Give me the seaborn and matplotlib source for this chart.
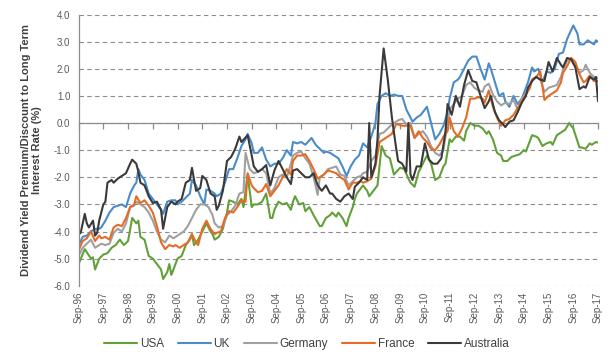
import matplotlib

matplotlib.use("Agg")

import matplotlib.pyplot as plt
import pandas as pd
import seaborn as sns

# months after Sep-96, value (%)
COUNTRIES = ["USA", "UK", "Germany", "France", "Australia"]
COLORS = ["#62a03a", "#4a8bc9", "#a0a0a0", "#e46c26", "#3a3a3a"]

TICK_MONTHS = list(range(0, 253, 12))
TICK_LABELS = ["Sep-96", "Sep-97", "Sep-98", "Sep-99", "Sep-00", "Sep-01", "Sep-02",
               "Sep-03", "Sep-04", "Sep-05", "Sep-06", "Sep-07", "Sep-08", "Sep-09",
               "Sep-10", "Sep-11", "Sep-12", "Sep-13", "Sep-14", "Sep-15", "Sep-16",
               "Sep-17"]
Y_TICKS = [-6, -5, -4, -3, -2, -1, 0, 1, 2, 3, 4]

usa_months = [0, 3, 6, 7, 8, 10, 12, 14, 16, 18, 20, 22, 24, 26, 28, 29, 30, 32, 34, 36,
              38, 40, 41, 43, 44, 45, 47, 48, 50, 52, 54, 55, 56, 58, 60, 62, 64, 65, 66,
              68, 70, 72, 73, 75, 77, 79, 80, 82, 84, 85, 87, 89, 91, 93, 94, 95, 97, 99,
              101, 103, 104, 105, 107, 109, 110, 112, 114, 117, 118, 120, 122, 123, 125,
              126, 128, 130, 131, 133, 134, 135, 138, 140, 141, 143, 145, 147, 149, 151,
              153, 156, 158, 160, 161, 163, 165, 167, 169, 171, 173, 175, 177, 178, 180,
              181, 183, 185, 187, 188, 190, 192, 194, 196, 198, 199, 201, 203, 205, 206,
              208, 210, 212, 214, 216, 217, 218, 220, 222, 223, 225, 227, 229, 230, 232,
              234, 236, 238, 240, 243, 244, 246, 248, 249, 251, 252]
usa_values = [-5.2, -4.65, -5.0, -4.95, -5.4, -5.0, -4.85, -4.8, -4.6, -4.5, -4.3, -4.5,
              -4.35, -3.5, -3.7, -3.6, -4.2, -4.3, -4.9, -5.0, -5.2, -5.4, -5.75, -5.5,
              -5.2, -5.6, -5.2, -5.0, -4.9, -4.5, -4.3, -4.1, -4.5, -4.3, -4.0, -3.7,
              -4.0, -4.1, -4.3, -4.2, -3.9, -3.3, -2.85, -2.9, -3.0, -2.8, -3.1, -1.9,
              -3.1, -3.0, -3.0, -2.9, -2.6, -3.5, -3.5, -3.2, -2.9, -3.0, -2.95, -3.2,
              -2.9, -2.7, -3.0, -2.95, -3.25, -3.1, -3.4, -3.8, -3.8, -3.5, -3.4, -3.3,
              -3.45, -3.3, -3.5, -3.8, -3.5, -3.1, -2.8, -2.6, -2.3, -2.5, -2.7, -2.5,
              -2.3, -0.85, -1.2, -1.3, -1.9, -1.65, -1.7, -2.05, -2.2, -2.35, -1.8, -1.5,
              -1.2, -1.5, -2.1, -2.0, -1.6, -1.5, -0.6, -0.7, -0.5, -0.5, -0.65, -0.3,
              0.0, -0.1, -0.1, -0.2, -0.4, -0.3, -0.6, -1.1, -1.2, -1.4, -1.4, -1.25,
              -1.2, -1.15, -1.0, -1.05, -0.85, -0.45, -0.5, -0.55, -0.85, -0.75, -0.7,
              -0.8, -0.45, -0.35, -0.25, 0.0, -0.2, -0.9, -0.9, -0.95, -0.75, -0.8, -0.7,
              -0.72]

uk_months = [0, 2, 4, 6, 8, 10, 11, 13, 15, 17, 19, 21, 23, 25, 27, 28, 29, 30, 32, 34,
             36, 38, 40, 41, 43, 45, 47, 48, 50, 52, 54, 55, 57, 59, 61, 62, 64, 66, 67,
             69, 71, 73, 75, 77, 79, 81, 82, 84, 85, 87, 89, 91, 93, 95, 97, 99, 101, 103,
             104, 106, 108, 110, 113, 115, 117, 119, 120, 122, 124, 126, 128, 130, 132,
             134, 136, 138, 140, 142, 144, 145, 147, 149, 151, 153, 155, 157, 159, 161,
             162, 164, 166, 168, 169, 171, 173, 175, 177, 179, 180, 182, 184, 185, 187,
             189, 191, 193, 195, 197, 199, 200, 202, 204, 206, 207, 209, 211, 213, 215,
             217, 218, 220, 221, 223, 225, 227, 229, 231, 233, 235, 237, 240, 242, 243,
             245, 247, 249, 250, 251, 252]
uk_values = [-4.5, -4.2, -4.15, -4.0, -3.9, -3.9, -3.85, -3.6, -3.3, -3.1, -3.05, -3.0,
             -3.1, -2.6, -2.3, -2.2, -1.7, -1.9, -2.1, -2.6, -2.8, -3.0, -3.2, -3.35,
             -2.9, -2.85, -2.85, -3.0, -2.9, -2.75, -2.6, -2.1, -2.3, -2.7, -3.0, -2.45,
             -2.5, -2.6, -2.7, -2.6, -2.2, -1.7, -1.7, -1.3, -0.85, -0.6, -0.4, -0.75,
             -1.1, -1.1, -0.9, -1.35, -1.6, -1.5, -1.5, -1.3, -1.0, -1.2, -0.7, -0.75,
             -0.7, -0.8, -0.55, -0.8, -0.95, -1.1, -1.05, -1.1, -1.2, -1.3, -1.6, -1.95,
             -1.6, -1.35, -1.2, -0.75, -0.9, -0.5, 0.0, 0.7, 1.0, 1.1, 1.0, 1.05, 1.0,
             1.0, 0.5, 0.2, 0.05, 0.2, 0.3, 0.5, 0.6, 0.0, -0.6, -0.4, -0.1, 0.4, 0.9,
             1.5, 1.6, 1.7, 2.0, 2.3, 2.45, 2.45, 2.0, 1.6, 2.2, 2.0, 1.5, 1.0, 1.1, 0.8,
             0.6, 1.0, 0.7, 0.9, 1.3, 1.5, 2.05, 1.9, 2.0, 1.5, 1.9, 1.85, 2.0, 2.55,
             2.6, 3.1, 3.6, 3.3, 2.9, 2.9, 3.05, 2.95, 2.9, 3.05, 3.0]

germany_months = [0, 2, 4, 6, 8, 10, 11, 13, 15, 17, 19, 21, 23, 25, 27, 28, 30, 32, 34,
                  36, 38, 40, 42, 44, 46, 47, 49, 51, 53, 55, 57, 59, 61, 63, 65, 66, 68,
                  70, 72, 74, 76, 78, 80, 81, 83, 85, 87, 89, 91, 93, 95, 97, 99, 101, 103,
                  104, 106, 108, 110, 112, 114, 116, 117, 119, 121, 123, 125, 127, 129,
                  131, 133, 135, 137, 138, 140, 142, 144, 146, 148, 150, 152, 154, 155,
                  157, 159, 161, 163, 165, 167, 169, 171, 173, 175, 177, 179, 180, 182,
                  184, 186, 188, 190, 192, 194, 196, 197, 199, 201, 203, 205, 207, 209,
                  211, 213, 215, 217, 219, 220, 222, 224, 226, 228, 230, 232, 234, 235,
                  237, 239, 241, 243, 245, 246, 248, 250, 252]
germany_values = [-4.9, -4.6, -4.45, -4.3, -4.6, -4.5, -4.45, -4.5, -4.45, -4.05, -3.9,
                  -4.0, -3.7, -3.1, -3.05, -2.9, -3.0, -3.1, -3.3, -3.6, -4.0, -4.3, -4.4,
                  -4.15, -4.25, -4.2, -4.1, -4.0, -3.8, -3.5, -3.2, -3.0, -3.0, -3.1, -3.4,
                  -3.7, -3.85, -3.8, -3.4, -3.25, -3.05, -2.6, -2.55, -1.1, -1.7, -1.85,
                  -1.8, -1.7, -1.85, -2.6, -2.4, -2.0, -1.9, -2.0, -1.5, -1.2, -1.1, -1.05,
                  -1.3, -1.5, -2.0, -2.65, -2.0, -1.9, -1.7, -1.65, -1.6, -1.9, -1.95,
                  -2.3, -2.15, -2.0, -1.95, -1.85, -1.8, -1.4, -1.2, -0.4, -0.35, -0.2,
                  -0.05, 0.05, 0.1, 0.15, -0.05, 0.0, -0.55, -0.4, -0.3, -0.5, -0.85, -1.1,
                  -1.2, -1.0, 0.0, 0.5, 0.7, 0.9, 1.0, 1.4, 1.5, 1.3, 1.2, 1.15, 1.35, 1.45,
                  1.05, 0.8, 0.65, 0.75, 0.7, 0.85, 0.5, 0.9, 1.1, 1.4, 1.6, 1.7, 1.6,
                  1.15, 1.3, 1.35, 1.4, 1.7, 1.95, 2.3, 2.35, 2.1, 1.85, 1.95, 2.15, 1.85,
                  1.7, 1.65]

france_months = [0, 2, 4, 6, 8, 10, 11, 13, 15, 17, 19, 21, 23, 25, 27, 28, 30, 32, 34,
                 36, 38, 40, 42, 44, 46, 47, 49, 51, 53, 55, 57, 58, 60, 62, 64, 66, 67,
                 69, 71, 73, 75, 77, 79, 81, 82, 84, 85, 87, 89, 91, 93, 95, 97, 99, 101,
                 103, 104, 106, 108, 110, 112, 114, 116, 117, 119, 121, 123, 125, 127, 129,
                 131, 133, 135, 137, 138, 140, 142, 144, 146, 148, 150, 152, 154, 155, 157,
                 159, 161, 163, 165, 167, 169, 171, 173, 175, 177, 179, 180, 182, 184, 186,
                 188, 190, 192, 194, 196, 197, 199, 201, 203, 205, 207, 209, 211, 213, 215,
                 217, 219, 220, 222, 224, 226, 228, 230, 232, 234, 235, 237, 239, 241, 243,
                 245, 246, 248, 250, 252]
france_values = [-4.7, -4.35, -4.25, -4.0, -4.35, -4.15, -4.25, -4.2, -4.3, -3.85, -3.75,
                 -3.8, -3.5, -3.1, -3.0, -2.7, -2.95, -2.85, -3.05, -3.3, -3.8, -4.4,
                 -4.65, -4.5, -4.55, -4.5, -4.6, -4.5, -4.4, -4.1, -4.4, -4.5, -3.9, -3.6,
                 -3.9, -4.1, -4.05, -4.0, -3.5, -3.25, -3.3, -3.1, -2.85, -2.9, -1.85,
                 -2.3, -2.4, -2.55, -2.5, -2.25, -2.7, -2.5, -2.3, -2.0, -1.7, -1.9, -1.4,
                 -1.2, -1.2, -1.15, -1.4, -1.7, -2.05, -2.0, -1.9, -1.75, -1.8, -1.85,
                 -2.0, -2.1, -2.45, -2.2, -2.2, -2.15, -2.2, -2.15, -2.05, -1.6, -0.7,
                 -0.6, -0.5, -0.4, -0.05, -0.05, -0.1, -0.1, -0.1, -0.55, -0.3, -0.55,
                 -0.7, -0.95, -1.0, -0.8, -0.5, -0.3, 0.2, -0.3, -0.5, -0.2, 0.2, 0.9, 0.9,
                 0.95, 0.9, 0.75, 1.2, 0.6, 0.2, -0.1, 0.1, 0.15, 0.3, 0.55, 0.8, 1.05,
                 1.3, 1.6, 1.7, 1.9, 0.85, 1.0, 1.1, 1.2, 1.5, 1.85, 2.1, 2.4, 2.25, 1.8,
                 1.5, 1.55, 1.75, 1.55, 1.55]

australia_months = [0, 1, 2, 3, 4, 5, 7, 8, 9, 10, 12, 13, 14, 16, 17, 19, 21, 23, 25, 26,
                    28, 29, 30, 32, 34, 36, 38, 40, 41, 43, 45, 47, 48, 50, 52, 54, 55, 57,
                    59, 60, 62, 64, 66, 67, 68, 70, 72, 74, 76, 78, 79, 82, 84, 85, 87, 89,
                    91, 93, 95, 97, 99, 101, 103, 104, 106, 108, 110, 112, 114, 116, 118,
                    120, 122, 123, 125, 127, 129, 131, 133, 134, 136, 138, 140, 141, 142,
                    144, 145, 146, 148, 150, 152, 154, 155, 157, 159, 160, 161, 162, 164,
                    166, 168, 170, 172, 174, 176, 178, 179, 181, 183, 185, 187, 189, 191,
                    193, 195, 197, 199, 200, 202, 204, 206, 207, 209, 211, 213, 215, 217,
                    218, 220, 222, 224, 226, 228, 230, 232, 234, 235, 237, 239, 241, 243,
                    245, 246, 248, 250, 251, 252]
australia_values = [-4.1, -4.05, -3.7, -3.35, -3.7, -3.85, -3.6, -4.15, -4.05, -3.6, -3.0,
                    -2.9, -2.2, -2.1, -2.2, -2.05, -1.95, -1.85, -1.5, -1.35, -1.5, -1.8,
                    -2.2, -2.3, -2.7, -2.95, -2.9, -3.2, -3.9, -3.1, -2.9, -3.0, -2.9,
                    -2.8, -2.2, -2.1, -1.65, -2.5, -2.4, -1.95, -2.1, -2.6, -2.7, -3.2,
                    -3.05, -2.5, -1.4, -1.25, -0.95, -0.5, -0.7, -0.45, -1.2, -1.6, -1.8,
                    -1.7, -1.55, -2.3, -1.75, -1.4, -1.7, -2.0, -2.25, -1.75, -1.7, -1.85,
                    -2.0, -2.0, -1.85, -2.3, -2.5, -2.3, -2.6, -2.6, -2.8, -2.9, -2.7,
                    -2.6, -2.8, -2.35, -2.2, -2.0, -2.1, 0.0, -2.0, -1.5, -0.6, 1.0, 2.75,
                    1.6, 0.2, -0.9, -1.4, -1.5, -1.8, 0.0, -1.9, -2.1, -1.6, -1.6, -0.75,
                    -1.35, -1.5, -1.5, -1.3, -0.3, 0.7, 0.3, 1.0, 0.6, 1.4, 1.95, 1.55, 1.5,
                    1.0, 0.55, 0.8, 1.0, 0.4, 0.1, -0.05, -0.15, 0.05, 0.1, 0.4, 0.75, 1.0,
                    1.3, 1.55, 1.7, 1.6, 1.55, 2.25, 1.9, 2.4, 2.15, 2.05, 2.4, 2.35, 2.05,
                    1.25, 1.35, 1.3, 1.7, 1.6, 1.7, 0.8]

series = {
    "USA": (usa_months, usa_values),
    "UK": (uk_months, uk_values),
    "Germany": (germany_months, germany_values),
    "France": (france_months, france_values),
    "Australia": (australia_months, australia_values),
}
df = pd.concat(
    [pd.DataFrame({"month": m, "value": v, "country": name}) for name, (m, v) in series.items()],
    ignore_index=True,
)

sns.set_style("white")
plt.rcParams["font.family"] = ["Liberation Sans", "DejaVu Sans"]

fig = plt.figure(figsize=(6.14, 3.64), dpi=100)
ax = fig.add_axes([0.128, 0.215, 0.846, 0.745])

sns.lineplot(data=df, x="month", y="value", hue="country", hue_order=COUNTRIES,
             palette=COLORS, estimator=None, sort=False, linewidth=1.5, legend=False, ax=ax)
handles = ax.get_lines()[:5]

ax.set_xlim(0, 252)
ax.set_ylim(-6, 4)
ax.set_yticks(Y_TICKS)
ax.set_yticklabels([f"{t:.1f}" for t in Y_TICKS])
ax.set_xticks(TICK_MONTHS)
ax.set_xticklabels(TICK_LABELS, rotation=90)
ax.tick_params(axis="both", length=0, labelsize=7, labelcolor="#595959")
ax.tick_params(axis="y", pad=6)
ax.tick_params(axis="x", pad=4)

ax.yaxis.grid(True, color="#8c8c8c", linestyle=(0, (4, 3)), linewidth=0.8)
ax.xaxis.grid(False)
for side in ["top", "right", "bottom"]:
    ax.spines[side].set_visible(False)
ax.spines["left"].set_color("#8c8c8c")
ax.spines["left"].set_linewidth(0.9)
ax.set_axisbelow(True)

# category axis crossing at zero with tick marks pointing down
zero_axis = ax.secondary_xaxis(0.6)
zero_axis.set_xticks(TICK_MONTHS, labels=[])
zero_axis.xaxis.set_ticks_position("bottom")
zero_axis.tick_params(length=4, width=0.9, color="#8c8c8c", direction="out",
                      labelbottom=False, labeltop=False)
for side in zero_axis.spines:
    zero_axis.spines[side].set_color("#8c8c8c")
    zero_axis.spines[side].set_linewidth(0.9)

ax.set_xlabel("")
ax.set_ylabel("Dividend Yield Premium/Discount to Long Term\nInterest Rate (%)",
              fontsize=8, fontweight="bold", color="#404040", labelpad=8)

fig.legend(handles, COUNTRIES, loc="center", bbox_to_anchor=(0.5, 0.055), ncol=5,
           frameon=False, fontsize=8.5, handlelength=2.8, columnspacing=1.2,
           handletextpad=0.2, labelcolor="#404040")

fig.savefig("out.png", dpi=100)
